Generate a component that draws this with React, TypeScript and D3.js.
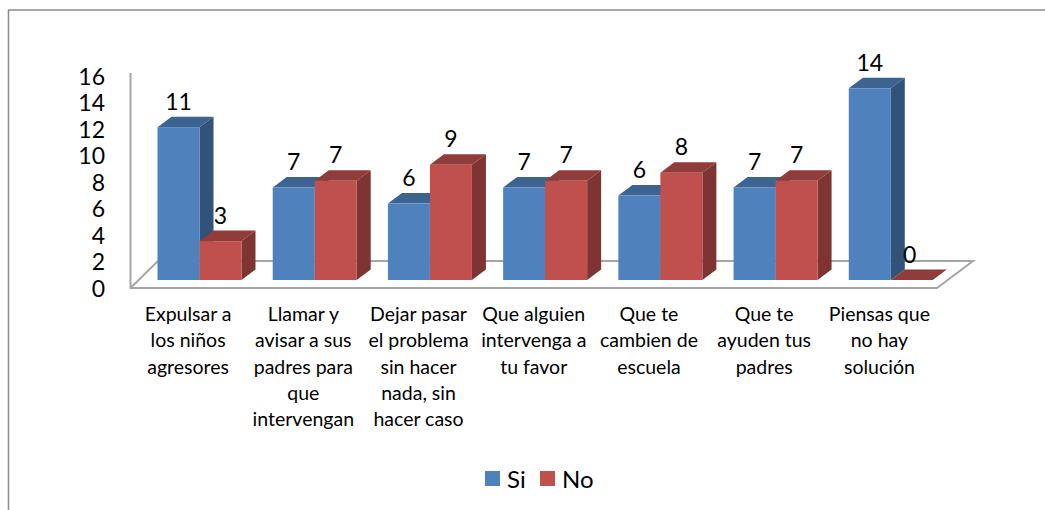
import React from "react";
import * as d3 from "d3";

const categories: string[][] = [
  ["Expulsar a", "los niños", "agresores"],
  ["Llamar y", "avisar a sus", "padres para", "que", "intervengan"],
  ["Dejar pasar", "el problema", "sin hacer", "nada, sin", "hacer caso"],
  ["Que alguien", "intervenga a", "tu favor"],
  ["Que te", "cambien de", "escuela"],
  ["Que te", "ayuden tus", "padres"],
  ["Piensas que", "no hay", "solución"],
];
const si = [11.4, 6.9, 5.7, 6.9, 6.3, 6.9, 14.3];
const no = [2.9, 7.4, 8.6, 7.4, 8, 7.4, 0];
const yTicks = [0, 2, 4, 6, 8, 10, 12, 14, 16];
const seriesNames = ["Si", "No"];
const colors = {
  Si: { front: "#4F81BD", top: "#3D6391", side: "#325379" },
  No: { front: "#C0504D", top: "#8F3C3A", side: "#7D3432" },
};

const FONT = "Lato, 'Open Sans', sans-serif";
const GRID = "#A6A6A6";

export default function App() {
  const x = d3.scaleBand<number>().domain(d3.range(categories.length)).range([130.5, 937]);
  const unit = d3.scaleLinear().domain([0, 16]).range([0, 214.5]);
  const floorY = 288;
  const barBase = 280;
  const backY = 261;
  const depthX = 14;
  const depthY = 10.5;
  const barW = 42;
  const barOffset = 27;

  const bar = (key: "Si" | "No", i: number, v: number) => {
    const bx = (x(i) as number) + barOffset + (key === "No" ? barW : 0);
    const top = barBase - unit(v);
    const c = colors[key];
    const poly = (pts: number[][]) => pts.map((p) => p.join(",")).join(" ");
    return (
      <g key={key + i}>
        <polygon points={poly([[bx + barW, barBase], [bx + barW + depthX, barBase - depthY], [bx + barW + depthX, top - depthY], [bx + barW, top]])} fill={c.side} />
        <polygon points={poly([[bx, top], [bx + depthX, top - depthY], [bx + barW + depthX, top - depthY], [bx + barW, top]])} fill={c.top} />
        {v > 0 && <rect x={bx} y={top} width={barW} height={barBase - top} fill={c.front} />}
      </g>
    );
  };

  const valueLabel = (key: "Si" | "No", i: number, v: number) => {
    const bx = (x(i) as number) + barOffset + (key === "No" ? barW : 0);
    const top = barBase - unit(v);
    return (
      <text key={"l" + key + i} x={bx + barW / 2 - (v === 0 ? 2 : 0)} y={top - 26.5} textAnchor="middle" dominantBaseline="central" fontSize={23} fontFamily={FONT} fill="#000">
        {d3.format(".0f")(v)}
      </text>
    );
  };

  return (
    <svg width={1045} height={510} style={{ position: "absolute", left: 0, top: 0, background: "#fff" }}>
      <path d="M8.5,510 V10 H1045" fill="none" stroke="#8C8C8C" strokeWidth={1.5} />

      {/* floor and axis */}
      <path
        d={`M130.5,73 V${floorY} H937 L973,${backY} H158 L130.5,${floorY}`}
        fill="none"
        stroke={GRID}
        strokeWidth={2}
      />

      {yTicks.map((t) => (
        <text key={t} x={105} y={floorY - unit(t) * 0.99} textAnchor="end" dominantBaseline="central" fontSize={23} fontFamily={FONT} fill="#000">
          {t}
        </text>
      ))}

      {categories.map((_, i) => (
        <g key={i}>
          {bar("Si", i, si[i])}
          {bar("No", i, no[i])}
        </g>
      ))}
      {categories.map((_, i) => (
        <g key={"v" + i}>
          {valueLabel("Si", i, si[i])}
          {valueLabel("No", i, no[i])}
        </g>
      ))}

      {categories.map((lines, i) => (
        <text key={"c" + i} textAnchor="middle" fontSize={19.5} fontFamily={FONT} fill="#000">
          {lines.map((ln, j) => (
            <tspan key={j} x={(x(i) as number) + x.bandwidth() / 2} y={321 + j * 26.3}>
              {ln}
            </tspan>
          ))}
        </text>
      ))}

      {seriesNames.map((s, i) => {
        const lx = 485 + i * 55;
        return (
          <g key={s}>
            <rect x={lx} y={471} width={15} height={15} fill={colors[s as "Si" | "No"].front} />
            <text x={lx + 22} y={478} dominantBaseline="central" fontSize={24} fontFamily={FONT} fill="#000">
              {s}
            </text>
          </g>
        );
      })}
    </svg>
  );
}
